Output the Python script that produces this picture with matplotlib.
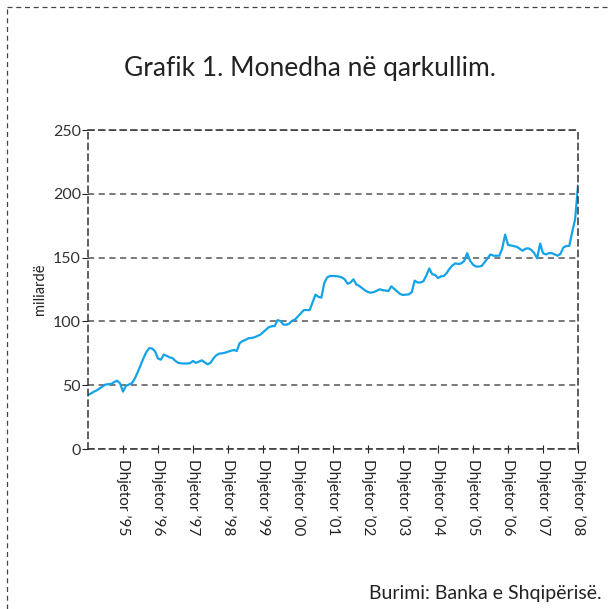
import matplotlib.pyplot as plt
from matplotlib.lines import Line2D

# monthly currency in circulation, Dec 1994 .. Dec 2008 (billion lek)
vlerat = [
    42.3,
    43.5, 44.9, 46.0, 47.5, 49.0, 50.5, 50.8, 51.0, 52.5, 53.5, 51.5, 45.0,
    49.5, 50.5, 51.5, 55.0, 60.0, 65.5, 71.0, 76.0, 79.0, 78.8, 76.5, 71.0,
    70.0, 74.0, 73.0, 71.8, 71.2, 69.0, 67.5, 67.1, 67.0, 67.0, 67.3, 69.0,
    67.5, 68.5, 69.5, 68.0, 66.4, 67.5, 71.0, 73.5, 74.8, 75.0, 75.5, 76.3,
    77.0, 77.6, 76.8, 83.0, 84.6, 85.5, 86.8, 87.0, 87.5, 88.5, 89.5, 91.5,
    93.5, 95.5, 96.2, 96.4, 101.0, 100.3, 97.5, 97.4, 98.3, 100.5, 101.5, 104.0,
    106.5, 108.9, 108.9, 108.9, 115.0, 121.0, 119.3, 118.6, 130.0, 134.5, 135.6, 135.6,
    135.5, 135.2, 134.5, 133.0, 129.5, 130.5, 133.0, 129.0, 127.8, 126.0, 124.3, 123.0,
    122.5, 123.0, 124.0, 125.2, 124.5, 124.2, 123.8, 127.5, 125.5, 123.5, 121.5, 120.7,
    121.0, 121.2, 123.0, 132.0, 130.5, 130.5, 131.5, 136.0, 141.5, 137.0, 136.5, 134.0,
    135.3, 135.6, 138.0, 141.5, 144.0, 145.5, 145.0, 145.5, 147.5, 153.5, 147.5, 144.5,
    143.0, 143.0, 143.5, 146.5, 149.5, 152.5, 151.5, 151.5, 151.5, 157.0, 168.0, 160.0,
    159.5, 159.0, 158.5, 157.0, 155.4, 157.0, 157.3, 156.0, 153.5, 149.5, 161.0, 153.5,
    152.5, 153.5, 153.5, 152.5, 151.5, 153.0, 158.0, 159.1, 159.1, 170.0, 180.0, 206.5,
]
vitet = ["95", "96", "97", "98", "99", "00", "01", "02", "03", "04", "05", "06", "07", "08"]
etiketat = ["Dhjetor \u2019" + v for v in vitet]
pozicionet = [12 * (i + 1) for i in range(len(vitet))]

plt.rcParams['font.family'] = ['Lato', 'DejaVu Sans']

fig = plt.figure(figsize=(6.08, 6.09), dpi=100)
ax = fig.add_axes([0.1447, 0.2627, 0.806, 0.5238])

ax.plot(range(len(vlerat)), vlerat, color='#12a3e8', linewidth=1.6)

ax.set_xlim(0, len(vlerat) - 1)
ax.set_ylim(0, 250)
ax.set_yticks([0, 50, 100, 150, 200, 250])
ax.set_xticks(pozicionet)
ax.set_xticklabels(etiketat, rotation=270, fontsize=11, va='top', ha='center')
ax.tick_params(axis='y', labelsize=11.5, length=4, color='#222222', labelcolor='#333333', pad=1)
ax.tick_params(axis='x', direction='inout', length=6, color='#222222', labelcolor='#222222', pad=4)

ax.grid(axis='y', linestyle=(0, (4, 3)), color='#555555', linewidth=1.1)
for s in ax.spines.values():
    s.set_linestyle((0, (4, 3)))
    s.set_color('#333333')
    s.set_linewidth(1.1)

ax.set_ylabel('miliardë', fontsize=10.5, labelpad=4, color='#222222')

fig.text(0.51, 0.888, 'Grafik 1. Monedha në qarkullim.', fontsize=19, ha='center', va='center', color='#222222')
fig.text(0.99, 0.026, 'Burimi: Banka e Shqipërisë.', fontsize=14, ha='right', va='center', color='#222222')

# dashed frame at top and left
fig.add_artist(Line2D([0.012, 1.0], [0.988, 0.988], transform=fig.transFigure,
                      linestyle=(0, (4, 3)), color='#444444', linewidth=0.9))
fig.add_artist(Line2D([0.012, 0.012], [0.0, 0.988], transform=fig.transFigure,
                      linestyle=(0, (4, 3)), color='#444444', linewidth=0.9))

plt.savefig('out.png', dpi=100)
